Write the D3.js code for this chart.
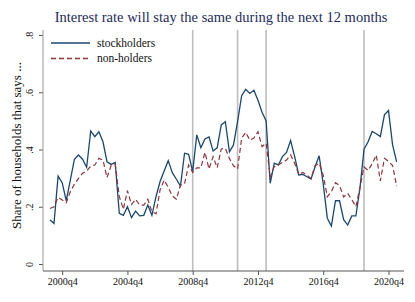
<!DOCTYPE html>
<html>
<head>
<meta charset="utf-8">
<script src="https://cdn.jsdelivr.net/npm/d3@7"></script>
<style>
  body { margin: 0; background: #fff; }
</style>
</head>
<body>
<svg id="chart" width="415" height="302" font-family="'Liberation Serif', 'DejaVu Serif', serif"></svg>
<script>
// Quarterly data, 2000q1 .. 2021q2
var startYear = 2000;
var stockholders = [
  0.154, 0.142, 0.307, 0.284, 0.221, 0.293, 0.366, 0.381, 0.366, 0.338,
  0.465, 0.445, 0.462, 0.427, 0.357, 0.348, 0.355, 0.177, 0.170, 0.200,
  0.162, 0.185, 0.168, 0.170, 0.206, 0.170, 0.235, 0.288, 0.325, 0.361,
  0.319, 0.296, 0.272, 0.387, 0.383, 0.323, 0.451, 0.406, 0.437, 0.444,
  0.395, 0.406, 0.486, 0.497, 0.392, 0.416, 0.497, 0.588, 0.610, 0.596,
  0.607, 0.572, 0.530, 0.500, 0.282, 0.352, 0.346, 0.375, 0.390, 0.431,
  0.375, 0.311, 0.313, 0.305, 0.297, 0.340, 0.378, 0.280, 0.160, 0.133,
  0.221, 0.221, 0.155, 0.136, 0.168, 0.168, 0.265, 0.401, 0.427, 0.463,
  0.455, 0.445, 0.521, 0.536, 0.416, 0.357
];
var nonholders = [
  0.194, 0.200, 0.233, 0.224, 0.214, 0.253, 0.279, 0.299, 0.317, 0.325,
  0.342, 0.346, 0.369, 0.363, 0.302, 0.344, 0.349, 0.236, 0.191, 0.256,
  0.208, 0.226, 0.206, 0.206, 0.226, 0.183, 0.175, 0.259, 0.293, 0.268,
  0.238, 0.226, 0.276, 0.280, 0.346, 0.320, 0.336, 0.336, 0.390, 0.332,
  0.375, 0.336, 0.402, 0.404, 0.369, 0.343, 0.332, 0.439, 0.460, 0.433,
  0.440, 0.462, 0.410, 0.422, 0.305, 0.340, 0.346, 0.355, 0.363, 0.381,
  0.352, 0.313, 0.320, 0.311, 0.299, 0.343, 0.352, 0.310, 0.235, 0.253,
  0.284, 0.274, 0.234, 0.247, 0.225, 0.200, 0.267, 0.339, 0.327, 0.350,
  0.381, 0.290, 0.369, 0.359, 0.344, 0.272
];
var xTickLabels = ["2000q4", "2004q4", "2008q4", "2012q4", "2016q4", "2020q4"];
var yTicks = [0, 0.2, 0.4, 0.6, 0.8];
var eventLabels = ["2008q4", "2011q3", "2013q2", "2019q2"];
var seriesNames = ["stockholders", "non-holders"];

// "2008q4" -> quarters since 2000q1
function qIndex(s) {
  var p = s.split("q");
  return (+p[0] - startYear) * 4 + (+p[1] - 1);
}

var svg = d3.select("#chart");
var plot = { left: 43, right: 404, top: 30, bottom: 271 };

var xScale = d3.scaleLinear().domain([-1.7, 86.8]).range([plot.left, plot.right]);
var yScale = d3.scaleLinear().domain([0, 0.8]).range([264, 35]);

// Event lines
svg.selectAll("line.event")
  .data(eventLabels).enter()
  .append("line")
    .attr("class", "event")
    .attr("x1", function(d) { return xScale(qIndex(d)); })
    .attr("x2", function(d) { return xScale(qIndex(d)); })
    .attr("y1", plot.top).attr("y2", plot.bottom)
    .style("stroke", "#bdbdbd").style("stroke-width", 1.6);

// Axes
var yAxis = d3.axisLeft(yScale).tickValues(yTicks).tickSize(4).tickPadding(3)
  .tickFormat(function(d) { return d === 0 ? "0" : d3.format(".1f")(d).replace(/^0/, ""); });
var gy = svg.append("g")
  .attr("transform", "translate(" + plot.left + ",0)")
  .call(yAxis);
gy.attr("font-family", null);
gy.select(".domain").remove();
gy.selectAll(".tick line").style("stroke", "#555");
gy.selectAll(".tick text")
  .attr("transform", "rotate(-90)")
  .attr("x", 0).attr("dy", 0)
  .attr("y", -10)
  .style("text-anchor", "middle")
  .style("font-size", "10px").style("fill", "#111");
svg.append("line")
  .attr("x1", plot.left).attr("x2", plot.left)
  .attr("y1", plot.top).attr("y2", plot.bottom)
  .style("stroke", "#999").style("stroke-width", 1);

var xAxis = d3.axisBottom(xScale)
  .tickValues(xTickLabels.map(qIndex)).tickSize(4).tickPadding(3)
  .tickFormat(function(d, i) { return xTickLabels[i]; });
var gx = svg.append("g")
  .attr("transform", "translate(0," + plot.bottom + ")")
  .call(xAxis);
gx.attr("font-family", null);
gx.select(".domain").attr("d", "M" + plot.left + ",0H" + plot.right).style("stroke", "#555");
gx.selectAll(".tick line").style("stroke", "#555");
gx.selectAll(".tick text").style("font-size", "10px").style("fill", "#111");

// Series lines
var line = d3.line()
  .x(function(d, i) { return xScale(i); })
  .y(function(d) { return yScale(d); });

svg.append("path").datum(stockholders)
  .attr("d", line)
  .style("fill", "none").style("stroke", "#1a476f").style("stroke-width", 1.3);
svg.append("path").datum(nonholders)
  .attr("d", line)
  .style("fill", "none").style("stroke", "#90353b").style("stroke-width", 1.2)
  .style("stroke-dasharray", "5,3");

// Legend
var legend = svg.append("g").attr("transform", "translate(51,43)");
seriesNames.forEach(function(name, i) {
  var g = legend.append("g").attr("transform", "translate(0," + (i * 15.5) + ")");
  g.append("line").attr("x1", 0).attr("x2", 39).attr("y1", 0).attr("y2", 0)
    .style("stroke", i === 0 ? "#1a476f" : "#90353b")
    .style("stroke-width", 1.3)
    .style("stroke-dasharray", i === 0 ? null : "5,3");
  g.append("text").attr("x", 46).attr("y", 0).attr("dy", "0.32em")
    .style("font-size", "11.5px").style("fill", "#111").text(name);
});

// Titles
svg.append("text")
  .attr("x", 221).attr("y", 22)
  .style("text-anchor", "middle").style("font-size", "14.5px").style("fill", "#1c2b5a")
  .text("Interest rate will stay the same during the next 12 months");

svg.append("text")
  .attr("transform", "translate(21," + ((plot.top + plot.bottom) / 2 - 5) + ") rotate(-90)")
  .style("text-anchor", "middle").style("font-size", "13px").style("fill", "#111")
  .text("Share of households that says ...");
</script>
</body>
</html>
